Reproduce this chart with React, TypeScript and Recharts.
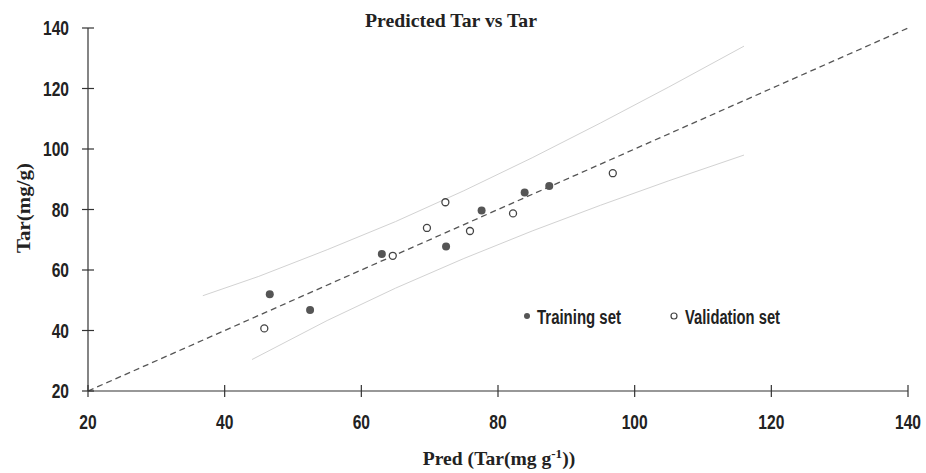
import {
  ScatterChart,
  Scatter,
  XAxis,
  YAxis,
  ReferenceLine,
} from 'recharts'

// measured (Pred, Tar) pairs
const trainPred = [46.6, 52.5, 63.0, 72.4, 77.6, 83.9, 87.5]
const trainTar = [52.0, 46.8, 65.3, 67.8, 79.7, 85.6, 87.8]
const validPred = [45.8, 64.6, 69.6, 72.3, 75.9, 82.2, 96.8]
const validTar = [40.7, 64.7, 73.9, 82.4, 72.9, 78.7, 92.0]

// confidence band lines
const upperX = [36.8, 45, 55, 65, 75, 85, 95, 105, 116]
const upperY = [51.5, 57.9, 66.7, 76.0, 86.2, 97.1, 108.6, 120.5, 134.0]
const lowerX = [44, 55, 65, 75, 85, 95, 105, 116]
const lowerY = [30.4, 43.3, 54.0, 63.8, 72.9, 81.4, 89.5, 98.0]

const axisTicks = [20, 40, 60, 80, 100, 120, 140]

const zip = (xs: number[], ys: number[]) => xs.map((x, i) => ({ x, y: ys[i] }))

const trainData = zip(trainPred, trainTar)
const validData = zip(validPred, validTar)
const upperData = zip(upperX, upperY)
const lowerData = zip(lowerX, lowerY)

const sans = "'Liberation Sans', Arial, sans-serif"
const serif = "'Liberation Serif', 'Times New Roman', serif"

// narrow bold tick labels (squeezed horizontally)
function XTick({ x, y, payload }: any) {
  return (
    <g>
      <line x1={x} x2={x} y1={y - 6} y2={y + 6} stroke="#333" strokeWidth={1.2} />
      <text
        transform={`translate(${x}, ${y + 38}) scale(0.78, 1)`}
        textAnchor="middle"
        fontFamily={sans}
        fontWeight="bold"
        fontSize={20}
        fill="#222"
      >
        {payload.value}
      </text>
    </g>
  )
}

function YTick({ x, y, payload }: any) {
  return (
    <g>
      <line x1={x - 6} x2={x + 6} y1={y} y2={y} stroke="#333" strokeWidth={1.2} />
      <text
        transform={`translate(${x - 19}, ${y + 7}) scale(0.78, 1)`}
        textAnchor="end"
        fontFamily={sans}
        fontWeight="bold"
        fontSize={20}
        fill="#222"
      >
        {payload.value}
      </text>
    </g>
  )
}

const noDot = () => <g />

export default function App() {
  return (
    <div style={{ position: 'absolute', left: 0, top: 0, width: 926, height: 473, background: '#fff' }}>
      <ScatterChart width={926} height={473} margin={{ top: 28, right: 18, bottom: 32, left: 0 }}>
        <XAxis
          type="number"
          dataKey="x"
          domain={[20, 140]}
          ticks={axisTicks}
          height={50}
          tickLine={false}
          tickSize={0}
          tickMargin={0}
          tick={<XTick />}
          axisLine={{ stroke: '#333', strokeWidth: 1.2 }}
          interval={0}
        />
        <YAxis
          type="number"
          dataKey="y"
          domain={[20, 140]}
          ticks={axisTicks}
          width={88}
          tickLine={false}
          tickSize={0}
          tickMargin={0}
          tick={<YTick />}
          axisLine={{ stroke: '#333', strokeWidth: 1.2 }}
          interval={0}
        />
        <Scatter
          data={upperData}
          line={{ stroke: '#d2d2d2', strokeWidth: 1 }}
          shape={noDot}
          isAnimationActive={false}
        />
        <Scatter
          data={lowerData}
          line={{ stroke: '#d2d2d2', strokeWidth: 1 }}
          shape={noDot}
          isAnimationActive={false}
        />
        <ReferenceLine
          segment={[{ x: 20, y: 20 }, { x: 140, y: 140 }]}
          stroke="#555"
          strokeWidth={1.3}
          strokeDasharray="6 4"
        />
        <Scatter
          name="Training set"
          data={trainData}
          fill="#555"
          shape={(p: any) => <circle cx={p.cx} cy={p.cy} r={4} fill="#555" />}
          isAnimationActive={false}
        />
        <Scatter
          name="Validation set"
          data={validData}
          shape={(p: any) => (
            <circle cx={p.cx} cy={p.cy} r={3.5} fill="#fff" stroke="#444" strokeWidth={1.3} />
          )}
          isAnimationActive={false}
        />
      </ScatterChart>
      <svg
        width={926}
        height={473}
        style={{ position: 'absolute', left: 0, top: 0, pointerEvents: 'none' }}
      >
        <text
          x={451}
          y={27}
          textAnchor="middle"
          fontFamily={serif}
          fontWeight="bold"
          fontSize={19}
          textLength={172}
          lengthAdjust="spacingAndGlyphs"
          fill="#222"
        >
          Predicted Tar vs Tar
        </text>
        <text
          transform="translate(499, 465) scale(1.09, 1)"
          textAnchor="middle"
          fontFamily={serif}
          fontWeight="bold"
          fontSize={18}
          fill="#222"
        >
          Pred (Tar(mg g<tspan dy={-7} fontSize={12}>-1</tspan>
          <tspan dy={7}>))</tspan>
        </text>
        <text
          transform="translate(30, 208) rotate(-90)"
          textAnchor="middle"
          fontFamily={serif}
          fontWeight="bold"
          fontSize={19}
          textLength={90}
          lengthAdjust="spacingAndGlyphs"
          fill="#222"
        >
          Tar(mg/g)
        </text>
        <circle cx={527} cy={316} r={3} fill="#555" />
        <text
          x={537}
          y={324}
          fontFamily={sans}
          fontWeight="bold"
          fontSize={20}
          textLength={84}
          lengthAdjust="spacingAndGlyphs"
          fill="#222"
        >
          Training set
        </text>
        <circle cx={674} cy={316} r={3} fill="#fff" stroke="#444" strokeWidth={1.2} />
        <text
          x={685}
          y={324}
          fontFamily={sans}
          fontWeight="bold"
          fontSize={20}
          textLength={95}
          lengthAdjust="spacingAndGlyphs"
          fill="#222"
        >
          Validation set
        </text>
      </svg>
    </div>
  )
}
